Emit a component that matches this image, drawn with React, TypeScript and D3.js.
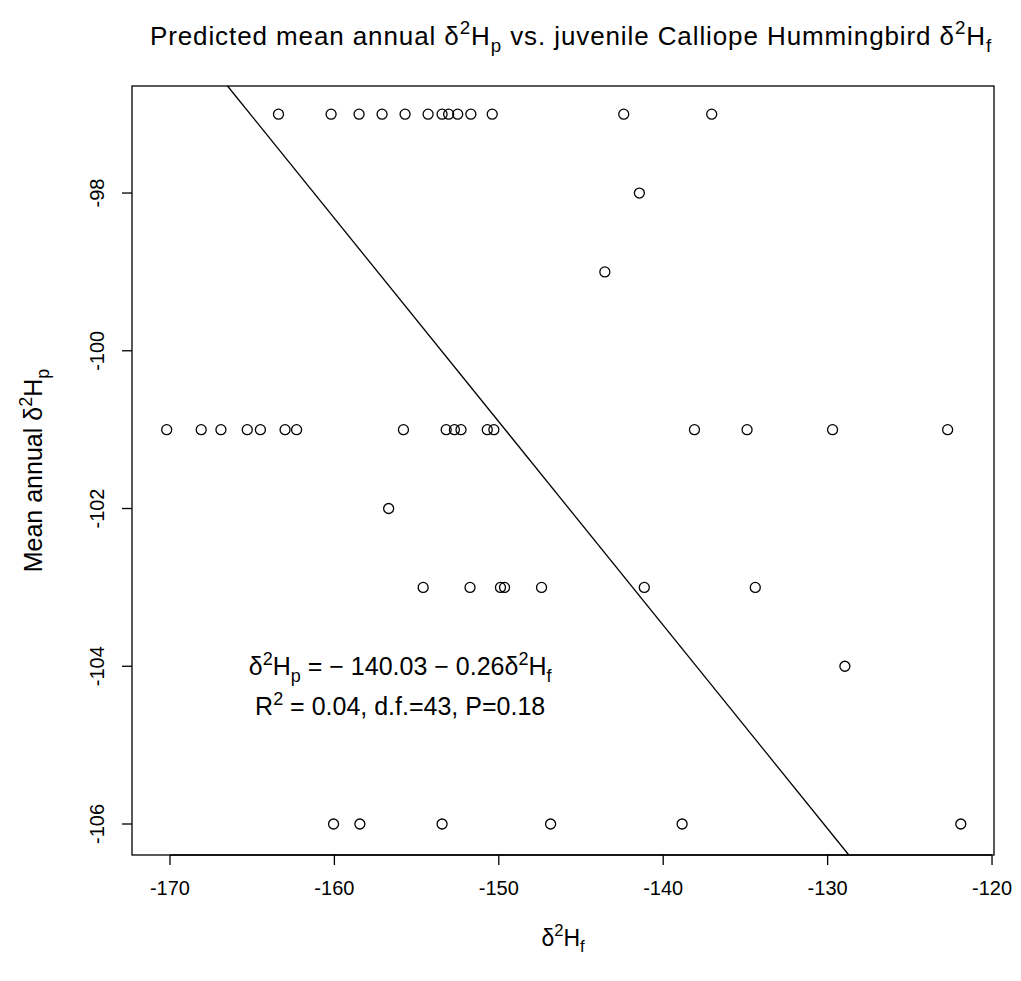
import * as d3 from "d3";

// juvenile feather d2H (x) and predicted mean annual precipitation d2H (y)
const hf = [
  -163.4, -160.2, -158.5, -157.1, -155.7, -154.3, -153.45, -153.05, -152.5, -151.7, -150.4, -142.4, -137.05,
  -141.45,
  -143.55,
  -170.2, -168.1, -166.9, -165.3, -164.5, -163.0, -162.3, -155.8, -153.2, -152.7, -152.3, -150.7, -150.3,
  -138.1, -134.9, -129.7, -122.7,
  -156.7,
  -154.6, -151.75, -149.9, -149.65, -147.4, -141.15, -134.4,
  -128.95,
  -160.05, -158.45, -153.45, -146.85, -138.85, -121.9,
];
const hp = [
  -97, -97, -97, -97, -97, -97, -97, -97, -97, -97, -97, -97, -97,
  -98,
  -99,
  -101, -101, -101, -101, -101, -101, -101, -101, -101, -101, -101, -101, -101,
  -101, -101, -101, -101,
  -102,
  -103, -103, -103, -103, -103, -103, -103,
  -104,
  -106, -106, -106, -106, -106, -106,
];

const xTicks = [-170, -160, -150, -140, -130, -120];
const yTicks = [-106, -104, -102, -100, -98];

// fitted line as drawn
const fitIntercept = -139.6;
const fitSlope = -0.258;

const width = 1021;
const height = 981;
const marginLeft = 132;
const marginRight = 27;
const marginTop = 86;
const marginBottom = 126;
const font = "'Liberation Sans', Arial, Helvetica, sans-serif";

// δ²H with a subscript, as tspans; `after` is text that follows on the baseline
function deltaH(sub: string, fs: number, key: string, after?: string) {
  const up = fs * 0.42;
  const down = fs * 0.28;
  const parts = [
    <tspan key={key + "d"}>δ</tspan>,
    <tspan key={key + "2"} fontSize={fs * 0.72} dy={-up}>2</tspan>,
    <tspan key={key + "H"} dy={up}>H</tspan>,
    <tspan key={key + "s"} fontSize={fs * 0.72} dy={down}>{sub}</tspan>,
  ];
  if (after) parts.push(<tspan key={key + "a"} dy={-down}>{after}</tspan>);
  return parts;
}

export default function App() {
  const x = d3
    .scaleLinear()
    .domain([-172.31, -119.88])
    .range([marginLeft, width - marginRight]);
  const y = d3
    .scaleLinear()
    .domain([-106.393, -96.643])
    .range([height - marginBottom, marginTop]);

  const [x0, x1] = x.domain();
  const [y0, y1] = y.domain();
  // clip the fit line to the plot box
  const xa = Math.max(x0, (y1 - fitIntercept) / fitSlope);
  const xb = Math.min(x1, (y0 - fitIntercept) / fitSlope);
  const line = d3
    .line<number>()
    .x(d => x(d))
    .y(d => y(fitIntercept + fitSlope * d));

  const left = marginLeft;
  const right = width - marginRight;
  const top = marginTop;
  const bottom = height - marginBottom;
  const cx = (left + right) / 2;
  const cy = (top + bottom) / 2;

  return (
    <svg
      width={width}
      height={height}
      style={{ position: "absolute", left: 0, top: 0, background: "white" }}
      fontFamily={font}
    >
      <text x={cx + 8} y={45} textAnchor="middle" fontSize={26} letterSpacing={0.9}>
        Predicted mean annual {deltaH("p", 26, "t1", " vs. juvenile Calliope Hummingbird ")}
        {deltaH("f", 26, "t2")}
      </text>

      <rect x={left} y={top} width={right - left} height={bottom - top} fill="none" stroke="black" strokeWidth={1.3} />

      {/* x axis */}
      <line x1={x(-170)} x2={x(-120)} y1={bottom} y2={bottom} stroke="black" strokeWidth={1.3} />
      {xTicks.map(t => (
        <g key={t}>
          <line x1={x(t)} x2={x(t)} y1={bottom} y2={bottom + 10} stroke="black" strokeWidth={1.3} />
          <text x={x(t)} y={bottom + 40} textAnchor="middle" fontSize={20}>
            {t}
          </text>
        </g>
      ))}
      <text x={cx} y={946} textAnchor="middle" fontSize={23}>
        {deltaH("f", 23, "xl")}
      </text>

      {/* y axis */}
      {yTicks.map(t => (
        <g key={t}>
          <line x1={left} x2={left - 10} y1={y(t)} y2={y(t)} stroke="black" strokeWidth={1.3} />
          <text
            transform={`translate(${left - 28},${y(t)}) rotate(-90)`}
            textAnchor="middle"
            fontSize={20}
          >
            {t}
          </text>
        </g>
      ))}
      <text transform={`translate(42,${cy}) rotate(-90)`} textAnchor="middle" fontSize={25}>
        Mean annual {deltaH("p", 25, "yl")}
      </text>

      {/* fit line */}
      <path d={line([xa, xb]) ?? undefined} fill="none" stroke="black" strokeWidth={1.3} />

      {/* points */}
      <g fill="none" stroke="black" strokeWidth={1.3}>
        {hf.map((d, i) => (
          <circle key={i} cx={x(d)} cy={y(hp[i])} r={5} />
        ))}
      </g>

      {/* annotation */}
      <text x={x(-156.0)} y={y(-104) + 9} textAnchor="middle" fontSize={25}>
        {deltaH("p", 25, "e1", " = − 140.03 − 0.26")}
        {deltaH("f", 25, "e2")}
      </text>
      <text x={x(-156.0)} y={y(-104) + 49} textAnchor="middle" fontSize={25}>
        R<tspan fontSize={18} dy={-10}>2</tspan>
        <tspan dy={10}> = 0.04, d.f.=43, P=0.18</tspan>
      </text>
    </svg>
  );
}
